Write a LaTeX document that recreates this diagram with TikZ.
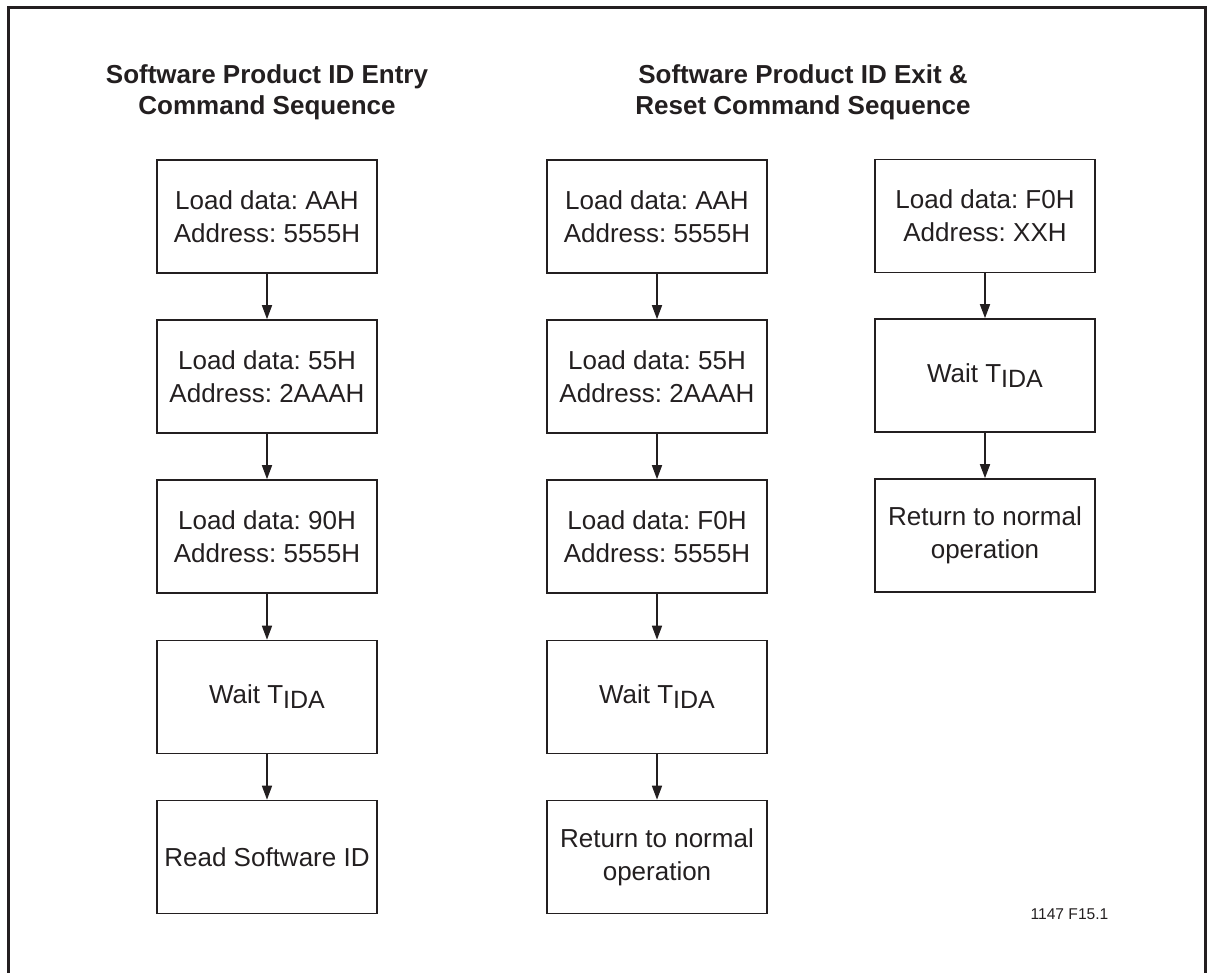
\documentclass[tikz,border=0pt]{standalone}
\usepackage{fontspec}
\setmainfont{Liberation Sans}
\usetikzlibrary{arrows.meta}
\definecolor{ink}{RGB}{35,31,32}
\newcommand{\tida}{T\raisebox{-5pt}{\fontsize{25}{25}\selectfont IDA}}
\frenchspacing
\begin{document}
\begin{tikzpicture}[x=1pt,y=-1pt,
  box/.style={draw=ink, line width=1.6pt, minimum width=220pt, minimum height=113pt,
    inner sep=0pt, align=center, font=\fontsize{26}{33}\selectfont, text=ink},
  ttl/.style={align=center, font=\fontsize{26}{31}\selectfont\bfseries, text=ink, inner sep=0pt},
  arr/.style={draw=ink, line width=1.6pt, -{Triangle[length=14pt,width=10pt]}}]
\useasboundingbox (0,0) rectangle (1213,973);
\draw[ink, line width=3pt] (8,980) -- (8,7.5) -- (1205.5,7.5) -- (1205.5,980);
% titles
\node[ttl] (t1) at (267,92) {Software Product ID Entry\\Command Sequence};
\node[ttl] (t2) at (803,92) {Software Product ID Exit \&\\Reset Command Sequence};
% left column
\node[box] (a1) at (267,216.5) {Load data: AAH\\Address: 5555H};
\node[box] (a2) at (267,376.5) {Load data: 55H\\Address: 2AAAH};
\node[box] (a3) at (267,536.5) {Load data: 90H\\Address: 5555H};
\node[box] (a4) at (267,697) {Wait \tida};
\node[box] (a5) at (267,857) {Read Software ID};
% middle column
\node[box] (b1) at (657,216.5) {Load data: AAH\\Address: 5555H};
\node[box] (b2) at (657,376.5) {Load data: 55H\\Address: 2AAAH};
\node[box] (b3) at (657,536.5) {Load data: F0H\\Address: 5555H};
\node[box] (b4) at (657,697) {Wait \tida};
\node[box] (b5) at (657,857) {Return to normal\\operation};
% right column
\node[box] (c1) at (985,216) {Load data: F0H\\Address: XXH};
\node[box] (c2) at (985,375.5) {Wait \tida};
\node[box] (c3) at (985,535.5) {Return to normal\\operation};
% arrows
\foreach \p/\q in {a1/a2,a2/a3,a3/a4,a4/a5,b1/b2,b2/b3,b3/b4,b4/b5,c1/c2,c2/c3}
  \draw[arr] (\p.south) -- (\q.north);
% figure id
\node[text=ink, font=\fontsize{15.6}{18}\selectfont, inner sep=0pt] (fid) at (1069.5,914.5) {1147 F15.1};
\end{tikzpicture}
\end{document}
